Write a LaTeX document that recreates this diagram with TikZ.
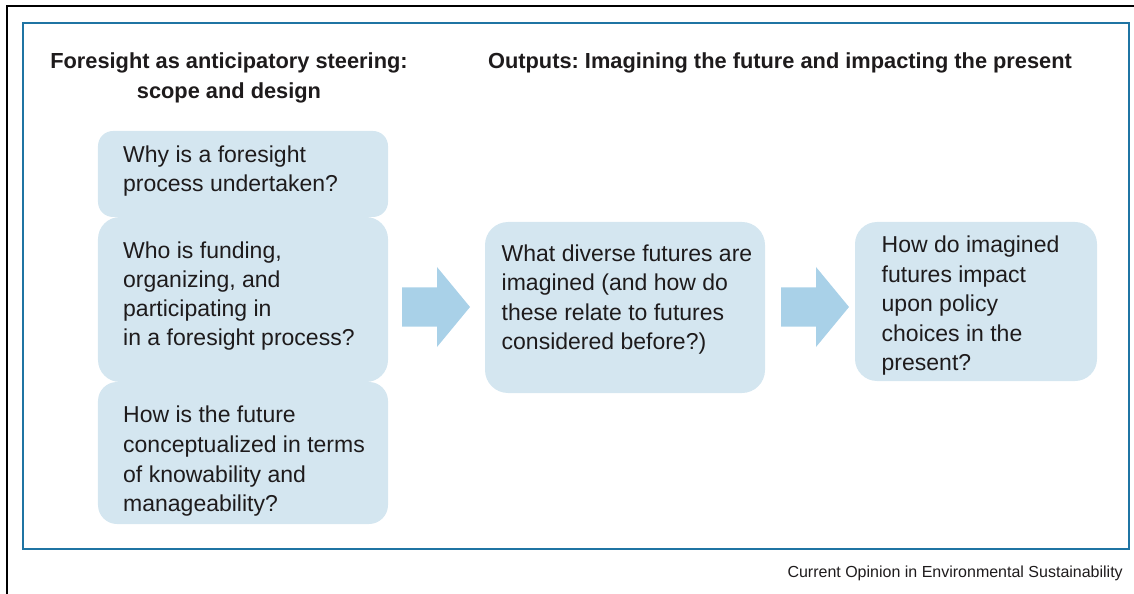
\documentclass[tikz,border=0pt]{standalone}
\usepackage{fontspec}
\setmainfont{Liberation Sans}
\frenchspacing
\definecolor{frameblue}{HTML}{1F74A3}
\definecolor{boxfill}{HTML}{D4E6F0}
\definecolor{arrowfill}{HTML}{A9D1E8}
\definecolor{inkgray}{HTML}{1E1B1C}
\begin{document}
\begin{tikzpicture}[x=1bp,y=-1bp,
  qbox/.style={fill=boxfill, draw=none, rectangle, inner sep=0pt},
  qtext/.style={anchor=north west, align=left, inner sep=0pt, text=inkgray,
    font=\fontsize{23bp}{#1}\selectfont},
  qtext/.default=29bp,
  heading/.style={anchor=base, align=center, inner sep=0pt, text=inkgray,
    font=\fontsize{21.8bp}{30bp}\selectfont\bfseries},
  blockarrow/.style={fill=arrowfill, draw=none}]
\useasboundingbox (0,0) rectangle (1134,594);

% outer and inner frames
\draw[black, line width=1.2bp] (7,594) -- (7,6) -- (1134,6);
\draw[frameblue, line width=1.6bp] (23,23) rectangle (1129,549);

% headings (base anchor sits on the last line)
\node[heading] (h1) at (229,99) {Foresight as anticipatory steering:\\scope and design};
\node[heading] (h2) at (780,69) {Outputs: Imagining the future and impacting the present};

% left column of questions
\node[qbox, rounded corners=15bp, minimum width=290bp, minimum height=86bp] (why) at (243,174) {};
\node[qbox, rounded corners=19bp, minimum width=290bp, minimum height=142bp] (how) at (243,453) {};
\node[qbox, rounded corners=22bp, minimum width=290bp, minimum height=165bp] (who) at (243,299.5) {};

% outputs
\node[qbox, rounded corners=23bp, minimum width=280bp, minimum height=171bp] (what) at (625,307.5) {};
\node[qbox, rounded corners=22bp, minimum width=242bp, minimum height=159bp] (impact) at (976,301.5) {};

% question texts
\node[qtext] (twhy) at (123,146) {Why is a foresight\\process undertaken?};
\node[qtext] (twho) at (123,242) {Who is funding,\\organizing, and\\participating in\\in a foresight process?};
\node[qtext=29.7bp] (thow) at (123,406) {How is the future\\conceptualized in terms\\of knowability and\\manageability?};
\node[qtext=29.4bp] (twhat) at (501.5,244.5) {What diverse futures are\\imagined (and how do\\these relate to futures\\considered before?)};
\node[qtext=29.5bp] (timpact) at (881.5,236) {How do imagined\\futures impact\\upon policy\\choices in the\\present?};

% block arrows between the stages
\coordinate (a1) at (402,307);
\coordinate (a2) at (781,307);
\foreach \p in {a1,a2}{
  \fill[blockarrow] (\p) ++(0,-19.5) -- ++(35,0) -- ++(0,-20.5) -- ++(33,40)
    -- ++(-33,40) -- ++(0,-20.5) -- ++(-35,0) -- cycle;
}

% source line
\node[anchor=base east, inner sep=0pt, text=inkgray, font=\fontsize{16bp}{18bp}\selectfont] (src) at (1123,577) {Current Opinion in Environmental Sustainability};
\end{tikzpicture}
\end{document}
